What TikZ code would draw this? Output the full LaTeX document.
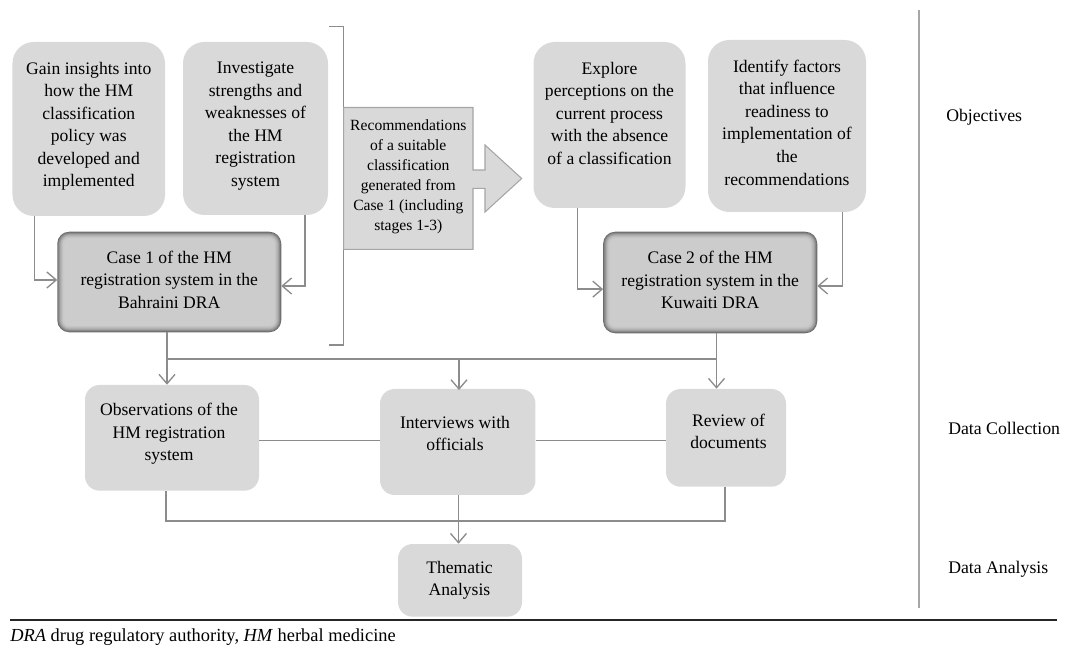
\documentclass[tikz,border=0pt]{standalone}
\usepackage{fontspec}
\setmainfont{Liberation Serif}
\usetikzlibrary{arrows.meta,calc}

\definecolor{boxfill}{HTML}{D9D9D9}
\definecolor{linegray}{HTML}{8C8C8C}
\definecolor{rulegray}{HTML}{A6A6A6}

\tikzset{
  txt/.style={inner sep=0pt, align=center, font=\fontsize{13.2pt}{16.9pt}\selectfont},
  smalltxt/.style={inner sep=0pt, align=center, font=\fontsize{11.7pt}{15pt}\selectfont},
  sidelabel/.style={inner sep=0pt, anchor=west, font=\fontsize{13.3pt}{16pt}\selectfont},
  objbox/.style={rectangle, rounded corners=16pt, fill=boxfill, inner sep=0pt},
  databox/.style={rectangle, rounded corners=11pt, fill=boxfill, inner sep=0pt},
  casebox/.style={rectangle, inner sep=0pt},
  conn/.style={draw=linegray, line width=1pt},
  arr/.style={conn, -{Straight Barb[length=7pt,width=12pt,line width=1pt]}},
}

% bevelled grey panel drawn behind a case node: dark rim fading to a light centre
\newcommand{\bevelpanel}[1]{%
  \foreach \i in {0,...,9}{%
    \pgfmathsetmacro{\shade}{20+38*(1-\i/9)^2}%
    \pgfmathsetmacro{\rad}{max(9-0.6*\i,2)}%
    \fill[black!\shade, rounded corners=\rad pt]
      ([shift={(\i*0.8,\i*0.8)}]#1.north west) rectangle
      ([shift={(-\i*0.8,-\i*0.8)}]#1.south east);
  }%
}

\begin{document}
\begin{tikzpicture}[x=0.75pt,y=-0.75pt]
\useasboundingbox (0,0) rectangle (1065,648);

% ---------- objectives ----------
\node[objbox, minimum width=114.4pt, minimum height=130.5pt] (gain) at (88.75,129) {};
\node[objbox, minimum width=108.75pt, minimum height=129.75pt] (invest) at (255.5,128.5) {};
\node[objbox, minimum width=114pt, minimum height=124.5pt] (explore) at (609.5,125) {};
\node[objbox, minimum width=118.5pt, minimum height=129pt] (identify) at (787,126) {};

\node[txt, anchor=north] (gaintxt) at ([yshift=-15pt]gain.north)
  {Gain insights into\\how the HM\\classification\\policy was\\developed and\\implemented};
\node[txt, anchor=north] (investtxt) at ([yshift=-15pt]invest.north)
  {Investigate\\strengths and\\weaknesses of\\the HM\\registration\\system};
\node[txt, anchor=north] (exploretxt) at ([yshift=-15pt]explore.north)
  {Explore\\perceptions on the\\current process\\with the absence\\of a classification};
\node[txt, anchor=north] (identifytxt) at ([yshift=-15pt]identify.north)
  {Identify factors\\that influence\\readiness to\\implementation of\\the\\recommendations};

% ---------- case panels ----------
\node[casebox, minimum width=167.6pt, minimum height=75pt] (case1) at (169.25,282) {};
\node[casebox, minimum width=160.2pt, minimum height=75.75pt] (case2) at (710.2,282.5) {};
\bevelpanel{case1}
\bevelpanel{case2}
\node[txt] (case1txt) at (169.25,279.5) {Case 1 of the HM\\registration system in the\\Bahraini DRA};
\node[txt] (case2txt) at (710.2,280) {Case 2 of the HM\\registration system in the\\Kuwaiti DRA};

% ---------- bracket and recommendation arrow ----------
\draw[conn] (329,26.7) -- (343.6,26.7) -- (343.6,345) -- (329,345);
\filldraw[fill=boxfill, draw=rulegray, line width=0.8pt]
  (343.6,107.5) -- (473,107.5) -- (473,170) -- (485,170) -- (485,145)
  -- (521.7,178.5) -- (485,212) -- (485,188.3) -- (473,188.3)
  -- (473,249.3) -- (343.6,249.3) -- cycle;
\node[smalltxt] (rec) at (408.3,176.5)
  {Recommendations\\of a suitable\\classification\\generated from\\Case 1 (including\\stages 1-3)};

% objectives feed the cases
\draw[arr] ([xshift=16.5pt]gain.south west) |- ([yshift=1.5pt]case1.west);
\draw[arr] ([xshift=-17.5pt]invest.south east) |- ([yshift=-3pt]case1.east);
\draw[arr] ([xshift=33pt]explore.south west) |- ([yshift=-5pt]case2.west);
\draw[arr] ([xshift=-18pt]identify.south east) |- ([yshift=-2.6pt]case2.east);

% ---------- data collection ----------
\node[databox, minimum width=130.5pt, minimum height=79.3pt] (obs) at (172,437.85) {};
\node[databox, minimum width=116.6pt, minimum height=79.5pt] (inter) at (457.75,442) {};
\node[databox, minimum width=90pt, minimum height=73.3pt] (review) at (726,437.85) {};
\node[txt] (obstxt) at (169,434) {Observations of the\\HM registration\\system};
\node[txt] (intertxt) at (455,433.5) {Interviews with\\officials};
\node[txt] (reviewtxt) at (728.5,431.5) {Review of\\documents};

\coordinate (busL) at (167,359);
\coordinate (busM) at (459,359);
\coordinate (busR) at (716.5,359);
\draw[conn] (case1.south -| busL) -- (busL) -- (busR) -- (case2.south -| busR);
\draw[arr] (busL) -- (obs.north -| busL);
\draw[arr] (busM) -- ([yshift=-1pt]inter.north -| busM);
\draw[arr] (busR) -- (review.north -| busR);

\coordinate (midrow) at (0,440.7);
\draw[conn] (obs.east |- midrow) -- (inter.west |- midrow);
\draw[conn] (inter.east |- midrow) -- (review.west |- midrow);

% ---------- data analysis ----------
\node[databox, minimum width=93pt, minimum height=54.5pt] (them) at (460,580.35) {};
\node[txt] (themtxt) at (459.5,580.5) {Thematic\\Analysis};

\coordinate (lowL) at (166,521);
\coordinate (lowM) at (458.5,521);
\coordinate (lowR) at (725,521);
\draw[conn] (obs.south -| lowL) -- (lowL) -- (lowR) -- (review.south -| lowR);
\draw[arr] (inter.south -| lowM) -- (them.north -| lowM);

% ---------- stage labels ----------
\draw[rulegray, line width=0.8pt] (919,10) -- (919,608);
\node[sidelabel] (lobj) at (946,117) {Objectives};
\node[sidelabel] (lcoll) at (948,428) {Data Collection};
\node[sidelabel] (lana) at (948,569) {Data Analysis};

% ---------- footnote ----------
\draw[black!85, line width=0.9pt] (10,620) -- (1057,620);
\node[inner sep=0pt, anchor=west, font=\fontsize{13.8pt}{16pt}\selectfont] (foot) at (10,637.5)
  {\textit{DRA} drug regulatory authority, \textit{HM} herbal medicine};
\end{tikzpicture}
\end{document}
